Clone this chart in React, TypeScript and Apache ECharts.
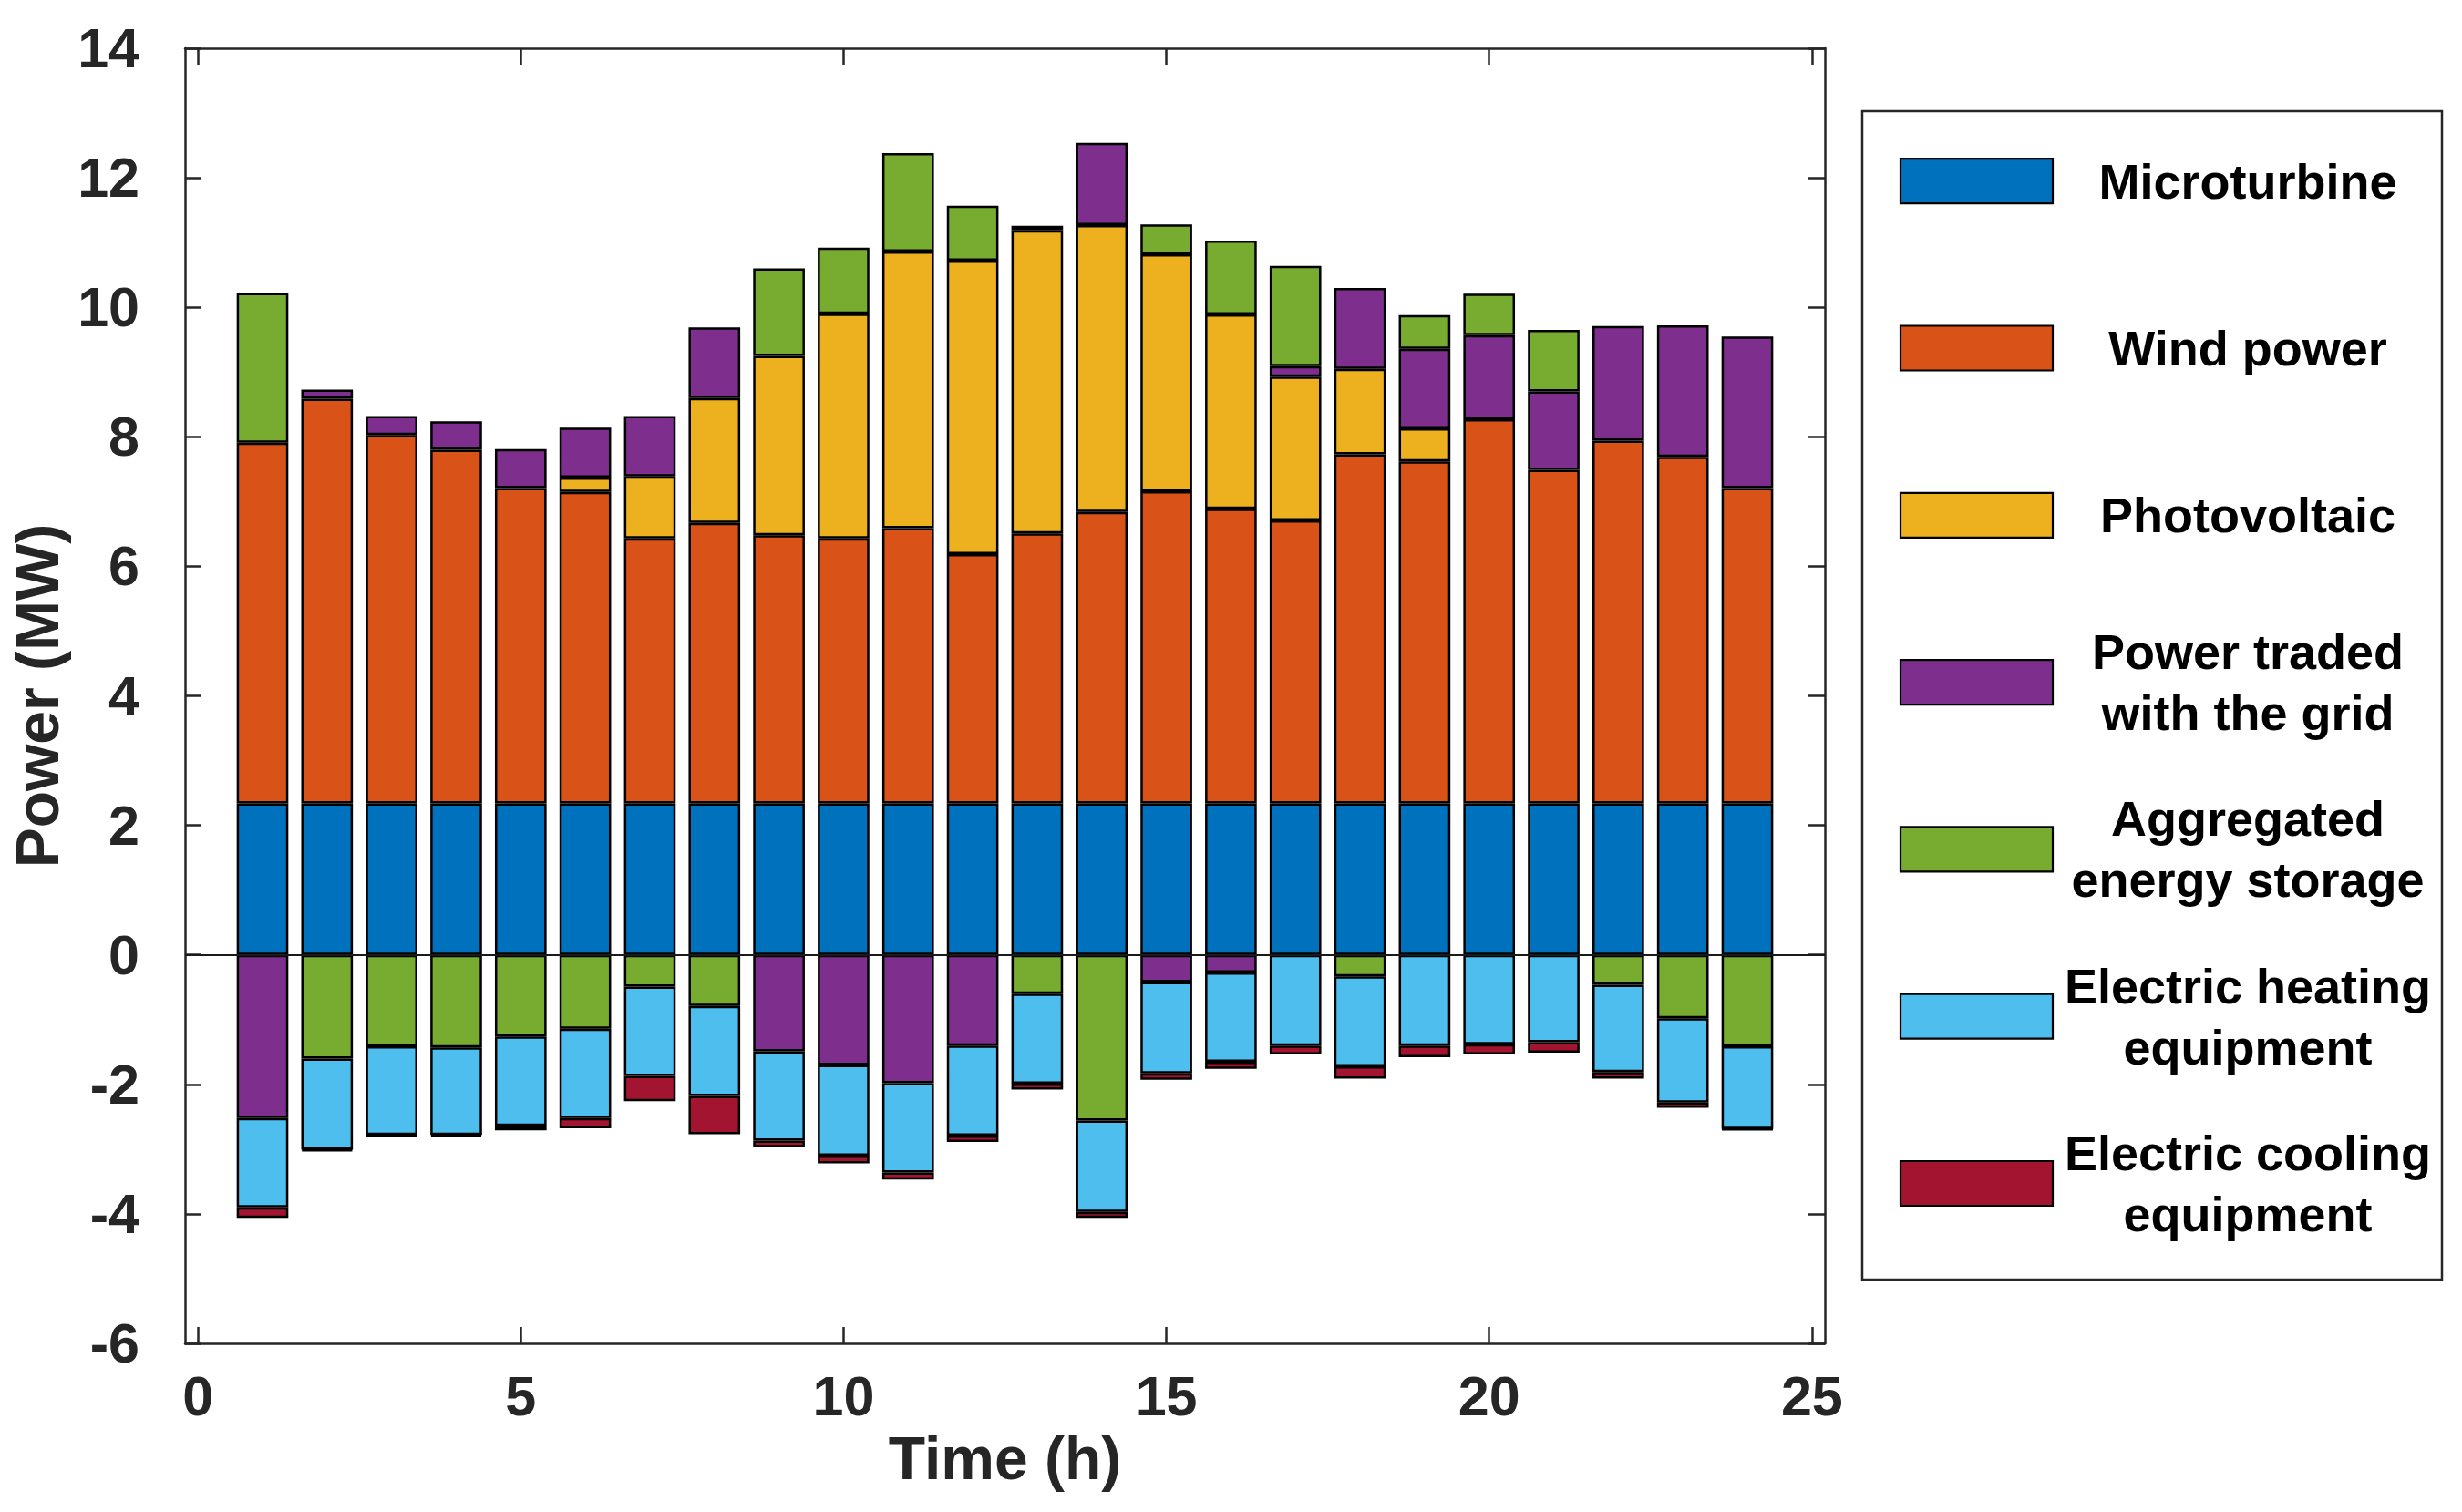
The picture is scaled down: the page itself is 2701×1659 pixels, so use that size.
import React, { useEffect, useRef } from "react";
import * as echarts from "echarts";

const hours = [1, 2, 3, 4, 5, 6, 7, 8, 9, 10, 11, 12, 13, 14, 15, 16, 17, 18, 19, 20, 21, 22, 23, 24];
const microturbine = [2.34, 2.34, 2.34, 2.34, 2.34, 2.34, 2.34, 2.34, 2.34, 2.34, 2.34, 2.34, 2.34, 2.34, 2.34, 2.34, 2.34, 2.34, 2.34, 2.34, 2.34, 2.34, 2.34, 2.34];
const windPower = [5.57, 6.25, 5.69, 5.46, 4.87, 4.81, 4.09, 4.33, 4.14, 4.09, 4.25, 3.85, 4.17, 4.5, 4.82, 4.55, 4.37, 5.39, 5.28, 5.93, 5.15, 5.6, 5.35, 4.87];
const photovoltaic = [null, null, null, null, null, 0.22, 0.96, 1.93, 2.77, 3.47, 4.27, 4.53, 4.68, 4.43, 3.66, 3.0, 2.22, 1.32, 0.51, null, null, null, null, null];
const gridTrade = [-2.52, 0.14, 0.29, 0.44, 0.6, 0.77, 0.93, 1.09, -1.49, -1.7, -1.98, -1.4, 0.07, 1.27, -0.42, -0.27, 0.16, 1.25, 1.23, 1.3, 1.21, 1.77, 2.03, 2.34];
const storage = [2.31, -1.6, -1.41, -1.43, -1.26, -1.14, -0.49, -0.79, 1.35, 1.02, 1.52, 0.85, -0.6, -2.56, 0.46, 1.14, 1.55, -0.33, 0.52, 0.64, 0.95, -0.46, -0.98, -1.41];
const heating = [-1.38, -1.41, -1.37, -1.35, -1.38, -1.38, -1.38, -1.39, -1.38, -1.4, -1.38, -1.39, -1.39, -1.41, -1.41, -1.38, -1.4, -1.39, -1.4, -1.38, -1.35, -1.35, -1.3, -1.28];
const cooling = [-0.16, -0.02, -0.02, -0.02, -0.07, -0.16, -0.39, -0.59, -0.1, -0.12, -0.11, -0.1, -0.09, -0.09, -0.1, -0.11, -0.14, -0.19, -0.18, -0.16, -0.16, -0.1, -0.08, -0.01];

const xTicks = [0, 5, 10, 15, 20, 25];
const seriesNames = [
  "Microturbine",
  "Wind power",
  "Photovoltaic",
  "Power traded with the grid",
  "Aggregated energy storage",
  "Electric heating equipment",
  "Electric cooling equipment",
];
const legendLabels = [
  "Microturbine",
  "Wind power",
  "Photovoltaic",
  "Power traded\nwith the grid",
  "Aggregated\nenergy storage",
  "Electric heating\nequipment",
  "Electric cooling\nequipment",
];
const colors = ["#0072BD", "#D95319", "#EDB120", "#7E2F8E", "#77AC30", "#4DBEEE", "#A2142F"];
const seriesValues = [microturbine, windPower, photovoltaic, gridTrade, storage, heating, cooling];

const FONT = '"Liberation Sans", Arial, Helvetica, sans-serif';
const AX = "#262626";

// plot frame (x range -0.2 .. 25.2 mapped to 203 .. 2002 px)
const X_MIN = -0.2;
const X_MAX = 25.2;
const PLOT_LEFT = 203;
const PLOT_WIDTH = 1799;
const PLOT_TOP = 53;
const PLOT_HEIGHT = 1421;
const PX_PER_UNIT = PLOT_WIDTH / (X_MAX - X_MIN);

export default function App() {
  const ref = useRef<HTMLDivElement>(null);

  useEffect(() => {
    document.body.style.margin = "0";
    if (!ref.current) return;
    const chart = echarts.init(ref.current, null, { renderer: "svg" });

    const series: any[] = seriesValues.map((vals, si) => ({
      name: seriesNames[si],
      type: "bar",
      stack: "total",
      barWidth: "80%",
      xAxisIndex: 2,
      yAxisIndex: 2,
      data: vals.map((v) => (v === null ? "-" : v)),
      itemStyle: { color: colors[si], borderColor: "#000", borderWidth: 2.5 },
      emphasis: { disabled: true },
    }));

    // invisible carrier for the zero baseline spanning the whole frame
    series.push({
      name: "baseline",
      type: "line",
      xAxisIndex: 0,
      yAxisIndex: 0,
      data: hours.map((h) => [h, 0]),
      showSymbol: false,
      symbol: "none",
      lineStyle: { width: 0, opacity: 0 },
      silent: true,
      z: 5,
      markLine: {
        silent: true,
        symbol: "none",
        label: { show: false },
        lineStyle: { color: "#1a1a1a", width: 2, type: "solid" },
        data: [{ yAxis: 0 }],
      },
    });

    const legendTop = 198.7;
    const legendStep = 183.3;
    const graphics: any[] = [
      {
        type: "rect",
        shape: { x: 2043, y: 122, width: 636, height: 1282 },
        style: { fill: "#fff", stroke: AX, lineWidth: 2.5 },
        z: 1,
      },
    ];
    legendLabels.forEach((lab, i) => {
      const cy = legendTop + i * legendStep;
      graphics.push({
        type: "rect",
        shape: { x: 2085, y: cy - 24.5, width: 167, height: 49 },
        style: { fill: colors[i], stroke: "#000", lineWidth: 2.2 },
        z: 2,
      });
      graphics.push({
        type: "text",
        x: 2466,
        y: cy,
        style: {
          text: lab,
          fill: "#000",
          fontSize: 54,
          fontWeight: "bold",
          fontFamily: FONT,
          lineHeight: 67,
          align: "center",
          verticalAlign: "middle",
        },
        z: 2,
      });
    });

    const axisLine = { show: true, onZero: false, lineStyle: { color: AX, width: 2.5 } };
    const tickStyle = { color: AX, width: 2.5 };

    chart.setOption({
      animation: false,
      backgroundColor: "#fff",
      textStyle: { fontFamily: FONT },
      grid: [
        {
          left: PLOT_LEFT,
          top: PLOT_TOP,
          width: PLOT_WIDTH,
          height: PLOT_HEIGHT,
          containLabel: false,
          outerBoundsMode: "none",
          show: false,
        },
        {
          // bars: category bands from 0.5 to 24.5 on the same scale
          left: PLOT_LEFT + (0.5 - X_MIN) * PX_PER_UNIT,
          top: PLOT_TOP,
          width: hours.length * PX_PER_UNIT,
          height: PLOT_HEIGHT,
          containLabel: false,
          outerBoundsMode: "none",
          show: false,
        },
      ],
      xAxis: [
        {
          type: "value",
          gridIndex: 0,
          position: "bottom",
          min: X_MIN,
          max: X_MAX,
          name: "Time (h)",
          nameLocation: "middle",
          nameGap: 88,
          nameTextStyle: { fontSize: 66, fontWeight: "bold", color: AX, fontFamily: FONT },
          axisLine,
          axisTick: { show: true, inside: true, length: 18, lineStyle: tickStyle, customValues: xTicks },
          axisLabel: {
            show: true,
            customValues: xTicks,
            fontSize: 61,
            fontWeight: "bold",
            color: AX,
            fontFamily: FONT,
            margin: 27,
          },
          splitLine: { show: false },
        },
        {
          type: "value",
          gridIndex: 0,
          position: "top",
          min: X_MIN,
          max: X_MAX,
          axisLine,
          axisTick: { show: true, inside: true, length: 18, lineStyle: tickStyle, customValues: xTicks },
          axisLabel: { show: false },
          splitLine: { show: false },
        },
        {
          type: "category",
          gridIndex: 1,
          data: hours.map(String),
          boundaryGap: true,
          show: false,
        },
      ],
      yAxis: [
        {
          type: "value",
          gridIndex: 0,
          position: "left",
          min: -6,
          max: 14,
          interval: 2,
          name: "Power (MW)",
          nameLocation: "middle",
          nameGap: 114,
          nameTextStyle: { fontSize: 66, fontWeight: "bold", color: AX, fontFamily: FONT },
          axisLine,
          axisTick: { show: true, inside: true, length: 18, lineStyle: tickStyle },
          axisLabel: {
            show: true,
            fontSize: 61,
            fontWeight: "bold",
            color: AX,
            fontFamily: FONT,
            margin: 50,
          },
          splitLine: { show: false },
        },
        {
          type: "value",
          gridIndex: 0,
          position: "right",
          min: -6,
          max: 14,
          interval: 2,
          axisLine,
          axisTick: { show: true, inside: true, length: 18, lineStyle: tickStyle },
          axisLabel: { show: false },
          splitLine: { show: false },
        },
        {
          type: "value",
          gridIndex: 1,
          min: -6,
          max: 14,
          interval: 2,
          show: false,
        },
      ],
      series,
      graphic: { elements: graphics },
    });

    return () => {
      chart.dispose();
    };
  }, []);

  return (
    <div
      ref={ref}
      style={{ position: "absolute", left: 0, top: 0, width: 2701, height: 1659, background: "#fff" }}
    />
  );
}
